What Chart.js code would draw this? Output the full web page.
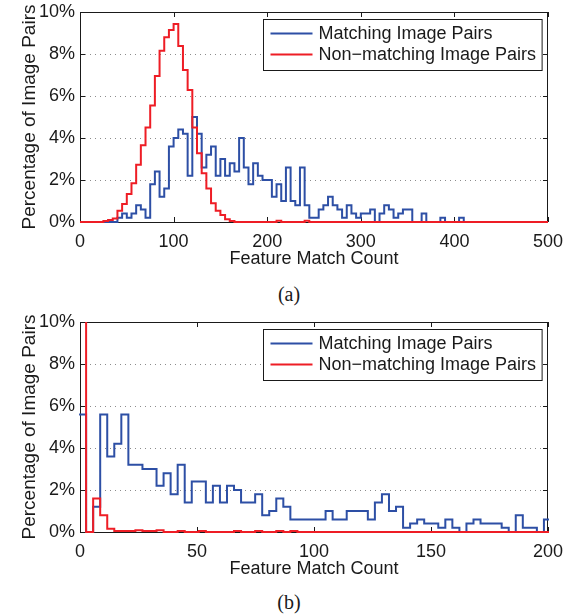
<!DOCTYPE html>
<html>
<head>
<meta charset="utf-8">
<script src="https://cdn.jsdelivr.net/npm/chart.js@4.4.1/dist/chart.umd.min.js"></script>
<style>
    body { margin: 0; background: #fff; width: 567px; height: 615px; position: relative; overflow: hidden; }
    .panel { position: absolute; left: 0; width: 567px; height: 270px; }
    .panel canvas { display: block; }
    .caption { position: absolute; left: 239px; width: 100px; text-align: center; line-height: 24px;
               font-family: 'Liberation Serif', 'Times New Roman', serif; font-size: 20px; color: #1a1a1a; }
</style>
</head>
<body>
<div class="panel" style="top:0px"><canvas id="chart_a" width="567" height="270"></canvas></div>
<div class="caption" style="top:282px">(a)</div>
<div class="panel" style="top:310px"><canvas id="chart_b" width="567" height="270"></canvas></div>
<div class="caption" style="top:590px">(b)</div>
<script>
// ---- data (percent of image pairs per histogram bin) ----
const seriesLabels = ['Matching Image Pairs', 'Non\u2212matching Image Pairs']
const yTicks = [0, 2, 4, 6, 8, 10]

// (a) bins of 5 matches, 0..500
const xTicksA = [0, 100, 200, 300, 400, 500]
const binStartA = 0
const binWidthA = 5
const matchingA = [
    0, 0, 0, 0, 0, 0, 0, 0, 0.2, 0.4,
    0.2, 0.4, 0.8, 0.6, 0.2, 1.8, 2.4, 1.2, 1.6, 3.6,
    4.0, 4.4, 4.2, 2.2, 5.0, 4.2, 2.6, 3.2, 3.6, 2.2,
    3.0, 2.2, 2.8, 2.4, 4.0, 2.6, 1.8, 2.8, 2.2, 2.0,
    2.0, 1.2, 1.8, 1.0, 2.6, 1.0, 0.8, 2.6, 0.8, 0.2,
    0.2, 0.6, 0.8, 1.2, 0.8, 0.6, 0.2, 0.8, 0.4, 0.2,
    0.4, 0.4, 0.6, 0, 0.4, 0.8, 0.6, 0.2, 0.4, 0.6,
    0.6, 0, 0, 0.4, 0, 0, 0, 0.2, 0, 0,
    0, 0.2, 0, 0, 0, 0, 0, 0, 0, 0,
    0, 0, 0, 0, 0, 0, 0, 0, 0, 0
]
const nonMatchingA = [
    0, 0, 0, 0, 0, 0.05, 0.1, 0.17, 0.54, 0.86,
    1.33, 1.84, 2.73, 3.65, 4.5, 5.55, 6.95, 8.16, 8.8, 9.14,
    9.43, 8.38, 7.24, 6.29, 4.5, 3.27, 2.32, 1.6, 0.89, 0.54,
    0.33, 0.13, 0.05, 0, 0, 0, 0, 0, 0, 0,
    0, 0, 0.06, 0, 0, 0, 0, 0, 0.06, 0,
    0, 0, 0, 0, 0, 0, 0, 0, 0, 0,
    0, 0, 0, 0, 0, 0, 0, 0, 0, 0,
    0, 0, 0, 0, 0, 0, 0, 0, 0, 0,
    0, 0, 0, 0, 0, 0, 0, 0, 0, 0,
    0, 0, 0, 0, 0, 0, 0, 0, 0, 0
]

// (b) bins of ~3 matches, 0..200
const xTicksB = [0, 50, 100, 150, 200]
const binStartB = -0.4
const binWidthB = 3.01
const matchingB = [
    5.6, 0, 1.2, 5.6, 3.6, 4.2, 5.6, 3.2, 3.2, 3.0,
    3.0, 2.2, 2.8, 1.8, 3.2, 1.4, 2.4, 2.4, 1.4, 2.2,
    1.4, 2.2, 2.0, 1.4, 1.4, 1.8, 0.8, 1.0, 1.6, 1.2,
    0.6, 0.6, 0.6, 0.6, 0.6, 1.0, 0.6, 0.6, 1.0, 1.0,
    1.0, 0.6, 1.4, 1.8, 1.0, 1.2, 0.2, 0.4, 0.6, 0.4,
    0.4, 0.2, 0.6, 0.2, 0, 0.4, 0.6, 0.4, 0.4, 0.4,
    0.2, 0, 0.8, 0.2, 0.2, 0, 0.6
]
const nonMatchingB = [
    60, 0, 1.6, 0.8, 0.15, 0.05, 0.05, 0.05, 0.08, 0.05,
    0.05, 0.08, 0, 0, 0.05, 0, 0, 0.05, 0, 0,
    0, 0, 0.05, 0, 0, 0.05, 0, 0, 0.05, 0,
    0.05, 0, 0, 0, 0, 0, 0, 0, 0, 0,
    0, 0, 0, 0, 0, 0, 0, 0, 0, 0,
    0, 0, 0, 0, 0, 0, 0, 0, 0, 0,
    0, 0, 0, 0, 0, 0, 0
]

Chart.defaults.font.family = "'Liberation Sans', Arial, sans-serif"
Chart.defaults.font.size = 18
Chart.defaults.color = '#1a1a1a'

// histogram values -> stair points at bin edges
function stepPoints(values, start, width){
    let pts = values.map((v, i) => ({x: start + i * width, y: v}))
    pts.push({x: start + values.length * width, y: values[values.length - 1]})
    return pts
}

// matlab style box, dotted grid, inner ticks and legend
const matlabAxes = {
    id: 'matlabAxes',
    beforeDatasetsDraw(chart){
        const ctx = chart.ctx
        const a = chart.chartArea
        const xs = chart.scales.x
        const ys = chart.scales.y
        ctx.save()
        ctx.lineWidth = 1
        ctx.strokeStyle = '#8c8c8c'
        ctx.setLineDash([1, 4])
        ys.ticks.forEach(t => {
            if (t.value <= ys.min || t.value >= ys.max) return
            const py = Math.round(ys.getPixelForValue(t.value)) + 0.5
            ctx.beginPath()
            ctx.moveTo(a.left, py)
            ctx.lineTo(a.right, py)
            ctx.stroke()
        })
        ctx.setLineDash([])
        ctx.strokeStyle = '#1a1a1a'
        ctx.beginPath()
        ys.ticks.forEach(t => {
            const py = Math.round(ys.getPixelForValue(t.value)) + 0.5
            ctx.moveTo(a.left, py); ctx.lineTo(a.left + 5, py)
            ctx.moveTo(a.right, py); ctx.lineTo(a.right - 5, py)
        })
        xs.ticks.forEach(t => {
            const px = Math.round(xs.getPixelForValue(t.value)) + 0.5
            ctx.moveTo(px, a.bottom); ctx.lineTo(px, a.bottom - 5)
            ctx.moveTo(px, a.top); ctx.lineTo(px, a.top + 5)
        })
        ctx.stroke()
        ctx.strokeRect(a.left + 0.5, a.top + 0.5, a.right - a.left - 1, a.bottom - a.top)
        ctx.restore()
    },
    afterDraw(chart){
        const ctx = chart.ctx
        const a = chart.chartArea
        const sets = chart.data.datasets
        ctx.save()
        ctx.font = "18px 'Liberation Sans', Arial, sans-serif"
        let textW = 0
        sets.forEach(d => { textW = Math.max(textW, ctx.measureText(d.label).width) })
        const boxW = 7 + 42 + 6 + textW + 6
        const boxH = 51
        const bx = Math.round(a.right - 6 - boxW) + 0.5
        const by = a.top + 7.5
        ctx.fillStyle = '#fff'
        ctx.fillRect(bx, by, boxW, boxH)
        ctx.strokeStyle = '#1a1a1a'
        ctx.lineWidth = 1
        ctx.strokeRect(bx, by, boxW, boxH)
        ctx.textBaseline = 'middle'
        ctx.fillStyle = '#1a1a1a'
        sets.forEach((d, i) => {
            const ry = by + 14 + i * 21
            ctx.strokeStyle = d.borderColor
            ctx.lineWidth = 2
            ctx.beginPath()
            ctx.moveTo(bx + 7, ry)
            ctx.lineTo(bx + 49, ry)
            ctx.stroke()
            ctx.fillText(d.label, bx + 55, ry + 1)
        })
        ctx.restore()
    }
}

function drawHistogram(canvasId, xTicks, matching, nonMatching, binStart, binWidth){
    const series = [matching, nonMatching]
    const colors = ['#2d4fa5', '#ee1d25']
    const datasets = series.map((values, i) => ({
        label: seriesLabels[i],
        data: stepPoints(values, binStart, binWidth),
        borderColor: colors[i],
        borderWidth: 2,
        pointRadius: 0,
        fill: false,
        stepped: 'before',
        order: i == 0 ? 1 : 0,
        clip: {left: 1, top: 0, right: 1, bottom: 3}
    }))
    new Chart(document.getElementById(canvasId).getContext('2d'), {
        type: 'line',
        data: { datasets },
        options: {
            responsive: false,
            animation: false,
            events: [],
            layout: { padding: { left: 0, right: 19, top: 12, bottom: 0 } },
            plugins: { legend: { display: false }, tooltip: { enabled: false } },
            scales: {
                x: {
                    type: 'linear',
                    min: xTicks[0],
                    max: xTicks[xTicks.length - 1],
                    afterBuildTicks: s => { s.ticks = xTicks.map(v => ({value: v})) },
                    afterFit: s => { s.height = 48; s.paddingLeft = 0; s.paddingRight = 0 },
                    grid: { display: false, drawTicks: false },
                    border: { display: false },
                    ticks: { padding: 9, maxRotation: 0, autoSkip: false },
                    title: { display: true, text: 'Feature Match Count', padding: { top: 0, bottom: 0 } }
                },
                y: {
                    min: yTicks[0],
                    max: yTicks[yTicks.length - 1],
                    afterBuildTicks: s => { s.ticks = yTicks.map(v => ({value: v})) },
                    afterFit: s => { s.width = 80; s.paddingTop = 0; s.paddingBottom = 0 },
                    grid: { display: false, drawTicks: false },
                    border: { display: false },
                    ticks: { padding: 5, callback: v => v + '%' },
                    title: { display: true, text: 'Percentage of Image Pairs', font: { size: 19 }, padding: { top: 18, bottom: 0 } }
                }
            }
        },
        plugins: [matlabAxes]
    })
}

drawHistogram('chart_a', xTicksA, matchingA, nonMatchingA, binStartA, binWidthA)
drawHistogram('chart_b', xTicksB, matchingB, nonMatchingB, binStartB, binWidthB)
</script>
</body>
</html>
